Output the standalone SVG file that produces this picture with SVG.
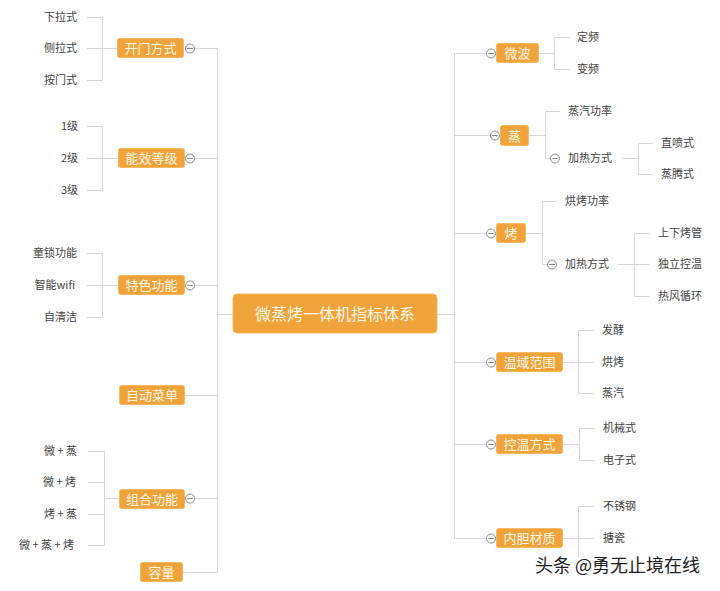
<svg xmlns="http://www.w3.org/2000/svg" width="720" height="591" viewBox="0 0 720 591">
<style>
.bg{fill:#ffffff}
.box{fill:#F0A33B;stroke:#F6B860;stroke-width:1}
.bt{font-family:"Noto Sans CJK SC","Noto Sans",sans-serif;font-size:13px;fill:#FFF6E4;text-anchor:middle}
.ct{font-family:"Noto Sans CJK SC","Noto Sans",sans-serif;font-size:16px;fill:#FFF6E4;text-anchor:middle}
.lf{font-family:"Noto Sans CJK SC","Noto Sans",sans-serif;font-size:11px;fill:#444444}
.le{text-anchor:end}
.ln{fill:none;stroke:#D8D8D8;stroke-width:1}
.tg{fill:#ffffff;stroke:#8a8a8a;stroke-width:1}
.wm{font-family:"Noto Sans CJK SC","Noto Sans",sans-serif;font-size:18px;fill:#222222;stroke:#ffffff;stroke-width:2.5;paint-order:stroke;stroke-linejoin:round}
</style>
<defs>
<g id="tog"><circle class="tg" cx="0" cy="0" r="4.5"/><line x1="-2.8" y1="0" x2="2.8" y2="0" stroke="#8a8a8a" stroke-width="1"/></g>
</defs>
<rect class="bg" x="0" y="0" width="720" height="591"/>

<g id="connectors">
<!-- left trunk -->
<path class="ln" d="M194.5,48.5 H217.5 V572.5 H182"/>
<path class="ln" d="M194.5,158.5 H217.5 M194.5,285.5 H217.5 M185,395.5 H217.5 M194.5,498.5 H217.5 M217.5,314.5 H233"/>
<!-- right trunk -->
<path class="ln" d="M486,53.5 H454.5 V538.5 H486"/>
<path class="ln" d="M437,314.5 H454.5 M454.5,135.5 H490 M454.5,233.5 H486 M454.5,362.5 H486 M454.5,444.5 H486"/>
<!-- left brackets -->
<path class="ln" d="M87,17.5 H102.5 V80.5 H87 M87,48.5 H117"/>
<path class="ln" d="M87,126.5 H102.5 V190.5 H87 M87,158.5 H118"/>
<path class="ln" d="M87,253.5 H102.5 V317.5 H87 M87,285.5 H118"/>
<path class="ln" d="M88,451.5 H104.5 V545.5 H88 M88,482.5 H104.5 M88,514.5 H104.5 M104.5,498.5 H119"/>
<!-- right brackets -->
<path class="ln" d="M538,53.5 H554.5 M570,37.5 H554.5 V69.5 H570"/>
<path class="ln" d="M528,135.5 H545.5 M560,111.5 H545.5 V158.5 H550.5"/>
<path class="ln" d="M622,158.5 H638.5 M653,143.5 H638.5 V174.5 H653"/>
<path class="ln" d="M526,233.5 H542.5 M557,201.5 H542.5 V264.5 H547.5"/>
<path class="ln" d="M618,264.5 H634.5 M650,233.5 H634.5 V296.5 H650 M634.5,264.5 H650"/>
<path class="ln" d="M563,362.5 H578.5 M594,330.5 H578.5 V393.5 H594 M578.5,362.5 H594"/>
<path class="ln" d="M563,444.5 H579.5 M595,428.5 H579.5 V460.5 H595"/>
<path class="ln" d="M563,538.5 H578.5 M594,506.5 H578.5 V557 M578.5,538.5 H594"/>
</g>

<g id="root">
<rect class="box" x="233" y="294" width="204" height="39" rx="4"/>
<text class="ct" x="335" y="319.5">微蒸烤一体机指标体系</text>
</g>

<g id="n-kaimen">
<rect class="box" x="117.5" y="38.5" width="66" height="19" rx="2"/>
<text class="bt" x="150.5" y="53">开门方式</text>
<use href="#tog" x="190" y="48.5"/>
<text class="lf le" x="77" y="21">下拉式</text>
<text class="lf le" x="77" y="52">侧拉式</text>
<text class="lf le" x="77" y="84">按门式</text>
</g>

<g id="n-nengxiao">
<rect class="box" x="118.5" y="148.5" width="66" height="19" rx="2"/>
<text class="bt" x="151.5" y="163">能效等级</text>
<use href="#tog" x="190" y="158.5"/>
<text class="lf le" x="78" y="130">1级</text>
<text class="lf le" x="78" y="162">2级</text>
<text class="lf le" x="78" y="194">3级</text>
</g>

<g id="n-tese">
<rect class="box" x="118.5" y="275.5" width="66" height="19" rx="2"/>
<text class="bt" x="151.5" y="290">特色功能</text>
<use href="#tog" x="190" y="285.5"/>
<text class="lf le" x="77" y="257">童锁功能</text>
<text class="lf le" x="75" y="289">智能wifi</text>
<text class="lf le" x="77" y="321">自清洁</text>
</g>

<g id="n-zidong">
<rect class="box" x="119.5" y="385.5" width="65" height="19" rx="2"/>
<text class="bt" x="152" y="400">自动菜单</text>
</g>

<g id="n-zuhe">
<rect class="box" x="119.5" y="489.5" width="65" height="19" rx="2"/>
<text class="bt" x="152" y="504">组合功能</text>
<use href="#tog" x="190" y="498.5"/>
<text class="lf le" x="77" y="455">微 + 蒸</text>
<text class="lf le" x="76" y="486">微 + 烤</text>
<text class="lf le" x="77" y="518">烤 + 蒸</text>
<text class="lf le" x="74" y="549">微 + 蒸 + 烤</text>
</g>

<g id="n-rongliang">
<rect class="box" x="140.5" y="562.5" width="42" height="19" rx="2"/>
<text class="bt" x="161.5" y="577">容量</text>
</g>

<g id="n-weibo">
<use href="#tog" x="491" y="53.5"/>
<rect class="box" x="496.5" y="43.5" width="42" height="19" rx="2"/>
<text class="bt" x="517.5" y="58">微波</text>
<text class="lf" x="577" y="41">定频</text>
<text class="lf" x="577" y="73">变频</text>
</g>

<g id="n-zheng">
<use href="#tog" x="495" y="135.5"/>
<rect class="box" x="500.5" y="125.5" width="28" height="20" rx="2"/>
<text class="bt" x="514.5" y="140.5">蒸</text>
<text class="lf" x="568" y="115">蒸汽功率</text>
<use href="#tog" x="555" y="158.5"/>
<text class="lf" x="568" y="162">加热方式</text>
<text class="lf" x="661" y="147">直喷式</text>
<text class="lf" x="661" y="178">蒸腾式</text>
</g>

<g id="n-kao">
<use href="#tog" x="491" y="233.5"/>
<rect class="box" x="496.5" y="223.5" width="29" height="19" rx="2"/>
<text class="bt" x="511" y="238">烤</text>
<text class="lf" x="565" y="205">烘烤功率</text>
<use href="#tog" x="552" y="264.5"/>
<text class="lf" x="565" y="268">加热方式</text>
<text class="lf" x="658" y="237">上下烤管</text>
<text class="lf" x="658" y="268">独立控温</text>
<text class="lf" x="658" y="300">热风循环</text>
</g>

<g id="n-wenyu">
<use href="#tog" x="491" y="362.5"/>
<rect class="box" x="496.5" y="352.5" width="66" height="19" rx="2"/>
<text class="bt" x="529.5" y="367">温域范围</text>
<text class="lf" x="602" y="334">发酵</text>
<text class="lf" x="602" y="366">烘烤</text>
<text class="lf" x="602" y="397">蒸汽</text>
</g>

<g id="n-kongwen">
<use href="#tog" x="491" y="444.5"/>
<rect class="box" x="496.5" y="434.5" width="66" height="19" rx="2"/>
<text class="bt" x="529.5" y="449">控温方式</text>
<text class="lf" x="603" y="432">机械式</text>
<text class="lf" x="603" y="464">电子式</text>
</g>

<g id="n-neidan">
<use href="#tog" x="491" y="538.5"/>
<rect class="box" x="496.5" y="528.5" width="66" height="19" rx="2"/>
<text class="bt" x="529.5" y="543">内胆材质</text>
<text class="lf" x="603" y="510">不锈钢</text>
<text class="lf" x="603" y="542">搪瓷</text>
</g>

<text class="wm" x="535" y="572">头条 @勇无止境在线</text>
</svg>
